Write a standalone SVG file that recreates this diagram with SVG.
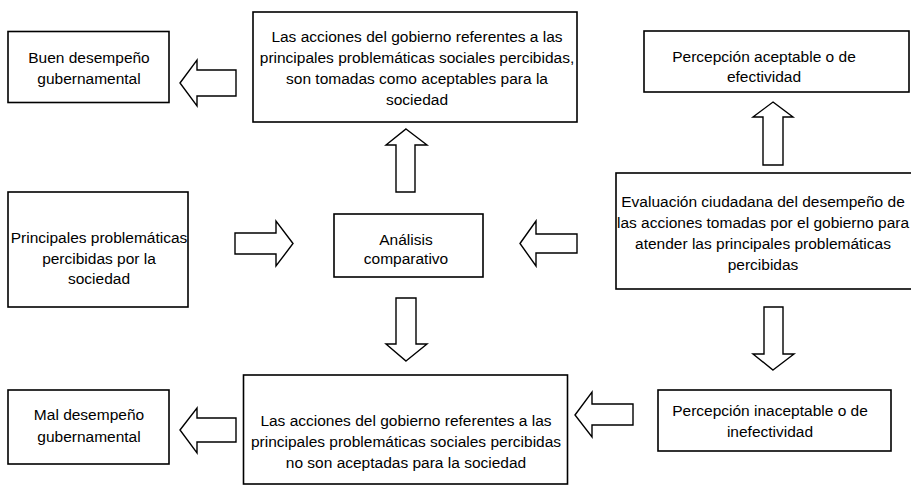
<svg xmlns="http://www.w3.org/2000/svg" width="911" height="488" viewBox="0 0 911 488">
<style>
.box{fill:#fff;stroke:#000;stroke-width:1.6}
.arr{fill:#fff;stroke:#000;stroke-width:1.4;stroke-linejoin:miter}
text{font-family:"Liberation Sans",Arial,sans-serif;font-size:15.5px;fill:#000;text-anchor:middle}
</style>
<rect width="911" height="488" fill="#fff"/>
<g id="connectors">
<polygon class="arr" points="180,83 197,60 197,70 236,70 236,96 197,96 197,106"/>
<polygon class="arr" points="293,243.5 276,221 276,233 235,233 235,254 276,254 276,266"/>
<polygon class="arr" points="406,129 427,145 415,145 415,192 396,192 396,145 386,145"/>
<polygon class="arr" points="406,361 427,344 416,344 416,298 396,298 396,344 386,344"/>
<polygon class="arr" points="520,243.5 536,221 536,234 577,234 577,253 536,253 536,266"/>
<polygon class="arr" points="773,102 793,117 783,117 783,165 763,165 763,117 753,117"/>
<polygon class="arr" points="773,370 794,354 783,354 783,307 764,307 764,354 753,354"/>
<polygon class="arr" points="575,415 592,392 592,404 633,404 633,425 592,425 592,437"/>
<polygon class="arr" points="180,430 197,408 197,418 236,418 236,442 197,442 197,453"/>
</g>
<g id="buen">
<rect class="box" x="8" y="31.5" width="161" height="71"/>
<text x="89" y="63">Buen desempeño</text>
<text x="89" y="84">gubernamental</text>
</g>
<g id="aceptadas">
<rect class="box" x="253" y="12" width="324" height="110"/>
<text x="417" y="42">Las acciones del gobierno referentes a las</text>
<text x="417" y="63">principales problemáticas sociales percibidas,</text>
<text x="417" y="84">son tomadas como aceptables para la</text>
<text x="417" y="105">sociedad</text>
</g>
<g id="percepcion-aceptable">
<rect class="box" x="644" y="31" width="265" height="61"/>
<text x="764" y="62">Percepción aceptable o de</text>
<text x="764" y="82">efectividad</text>
</g>
<g id="principales">
<rect class="box" x="8" y="192" width="180" height="115"/>
<text x="99" y="243">Principales problemáticas</text>
<text x="99" y="263.5">percibidas por la</text>
<text x="99" y="284">sociedad</text>
</g>
<g id="analisis">
<rect class="box" x="334" y="214" width="149" height="63"/>
<text x="406" y="244.5">Análisis</text>
<text x="406" y="264">comparativo</text>
</g>
<g id="evaluacion">
<rect class="box" x="616" y="173" width="310" height="116"/>
<text x="763" y="207">Evaluación ciudadana del desempeño de</text>
<text x="763" y="228">las acciones tomadas por el gobierno para</text>
<text x="763" y="249">atender las principales problemáticas</text>
<text x="763" y="270">percibidas</text>
</g>
<g id="no-aceptadas">
<rect class="box" x="243.5" y="375" width="324" height="109"/>
<text x="406" y="425.5">Las acciones del gobierno referentes a las</text>
<text x="406" y="446.5">principales problemáticas sociales percibidas</text>
<text x="406" y="467.5">no son aceptadas para la sociedad</text>
</g>
<g id="percepcion-inaceptable">
<rect class="box" x="658" y="390" width="233" height="61"/>
<text x="770" y="416">Percepción inaceptable o de</text>
<text x="770" y="437">inefectividad</text>
</g>
<g id="mal">
<rect class="box" x="8" y="390" width="161" height="74"/>
<text x="89" y="420">Mal desempeño</text>
<text x="89" y="441.5">gubernamental</text>
</g>
</svg>
